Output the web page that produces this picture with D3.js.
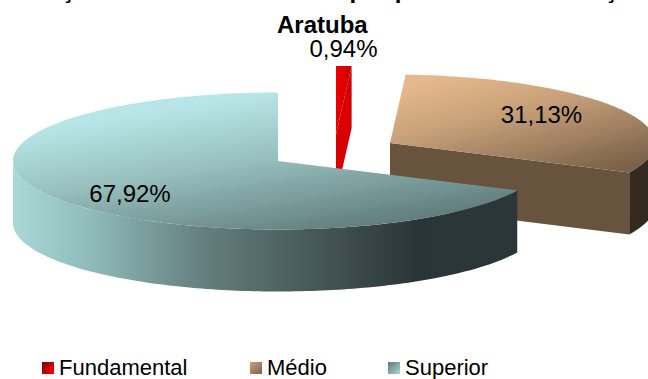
<!DOCTYPE html>
<html>
<head>
<meta charset="utf-8">
<script src="https://cdn.jsdelivr.net/npm/d3@7"></script>
<style>
  html, body { margin: 0; padding: 0; background: #fff; }
  svg { display: block; }
  text { font-family: "Liberation Sans", Arial, sans-serif; fill: #000; }
</style>
</head>
<body>
<div id="chart"></div>
<script>
// data
const categories = ["Fundamental", "Médio", "Superior"];
const values = [0.94, 31.13, 67.92];
const valueLabels = ["0,94%", "31,13%", "67,92%"];
// only the descenders of the first title line are visible, the wording is a guess
const titleLines = ["Ação continuada recebida por professores da Nação", "Aratuba"];

const width = 648;
const height = 379;

// ellipse of the tilted pie
const rx = 265;
const ry = 68.5;
const depth = 62;

// apex of each slice (exploded)
const apex = [[336, 134.5], [390, 143], [278, 161]];
const labelPos = [[343.5, 57], [541.5, 123], [130, 202]];
const legendX = [42, 250, 388];

const svg = d3.select("#chart").append("svg")
    .attr("width", width)
    .attr("height", height);

const defs = svg.append("defs");

function addGradient(id, x1, y1, x2, y2, stops) {
    const g = defs.append("linearGradient")
        .attr("id", id)
        .attr("x1", x1).attr("y1", y1)
        .attr("x2", x2).attr("y2", y2);
    stops.forEach(s => g.append("stop").attr("offset", s[0]).attr("stop-color", s[1]));
}

addGradient("topF", 0, 0, 1, 0.25, [[0, "#f00000"], [0.55, "#dc0000"], [1, "#c80000"]]);
addGradient("topM", 0.1, 0, 0.8, 1, [[0.05, "#e6b98c"], [0.4, "#c9a27b"], [1, "#7b6249"]]);
addGradient("topS", 0.15, 0, 0.75, 1, [[0.15, "#b8e6e6"], [0.5, "#97c0bf"], [1, "#5e7878"]]);
addGradient("wallS", 0, 0, 1, 0, [[0, "#a9d8d6"], [0.15, "#8fbcba"], [0.38, "#647e7e"], [0.65, "#404f4f"], [0.8, "#2a3537"], [1, "#2b3638"]]);
addGradient("legF", 0, 0, 1, 1, [[0, "#7a0000"], [1, "#ff0000"]]);
addGradient("legM", 0, 0, 1, 1, [[0, "#c9a27b"], [1, "#7b6249"]]);
addGradient("legS", 0, 0, 1, 1, [[0, "#5e7878"], [1, "#a9d6d5"]]);

const topFill = d3.scaleOrdinal().domain(categories).range(["url(#topF)", "url(#topM)", "url(#topS)"]);
const legendFill = d3.scaleOrdinal().domain(categories).range(["url(#legF)", "url(#legM)", "url(#legS)"]);
const radialWall = d3.scaleOrdinal().domain(categories).range(["#d80000", "#67533e", "#7d9f9f"]);
const outerWall = d3.scaleOrdinal().domain(categories).range(["#d80000", "#332a20", "url(#wallS)"]);

const pie = d3.pie().sort(null);
const slices = pie(values);

const line = d3.line();

// screen position of a pie angle (clockwise from the top)
function project(c, a) {
    return [c[0] + rx * Math.sin(a), c[1] - ry * Math.cos(a)];
}

function arcPoints(c, a0, a1) {
    const n = Math.max(2, Math.ceil((a1 - a0) / 0.02));
    return d3.range(n + 1).map(i => project(c, a0 + (a1 - a0) * i / n));
}

function down(p) {
    return [p[0], p[1] + depth];
}

// draw back to front: fundamental, medio, superior
slices.forEach((d, i) => {
    const name = categories[i];
    const c = apex[i];
    const g = svg.append("g").attr("class", "slice");

    // radial wall at the end of the slice, faces the viewer on the right half
    if (d.endAngle < Math.PI) {
        const p = project(c, d.endAngle);
        g.append("path")
            .attr("d", line([c, p, down(p), down(c)]) + "Z")
            .attr("fill", radialWall(name));
    }

    // outer wall, only the part facing the viewer
    const a0 = Math.max(d.startAngle, Math.PI / 2);
    const a1 = Math.min(d.endAngle, Math.PI * 1.5);
    if (a1 > a0) {
        const topEdge = arcPoints(c, a0, a1);
        const botEdge = topEdge.map(down).reverse();
        g.append("path")
            .attr("d", line(topEdge.concat(botEdge)) + "Z")
            .attr("fill", outerWall(name));
    }

    // top face
    const face = [c].concat(arcPoints(c, d.startAngle, d.endAngle));
    g.append("path")
        .attr("d", line(face) + "Z")
        .attr("fill", topFill(name));
});

// value labels
svg.selectAll("text.value")
    .data(valueLabels)
    .enter().append("text")
    .attr("class", "value")
    .attr("x", (d, i) => labelPos[i][0])
    .attr("y", (d, i) => labelPos[i][1])
    .attr("text-anchor", "middle")
    .attr("font-size", 24)
    .text(d => d);

// title, first line is cut by the top of the picture
svg.selectAll("text.title")
    .data(titleLines)
    .enter().append("text")
    .attr("class", "title")
    .attr("x", (d, i) => i === 0 ? 44 : 277)
    .attr("y", (d, i) => i === 0 ? -2 : 33)
    .attr("font-size", 24)
    .attr("font-weight", "bold")
    .text(d => d);

// legend
const legend = svg.selectAll("g.legend")
    .data(categories)
    .enter().append("g")
    .attr("class", "legend")
    .attr("transform", (d, i) => `translate(${legendX[i]},0)`);

legend.append("rect")
    .attr("y", 362)
    .attr("width", 12)
    .attr("height", 12)
    .attr("fill", d => legendFill(d));

legend.append("text")
    .attr("x", 17)
    .attr("y", 375)
    .attr("font-size", 22)
    .text(d => d);
</script>
</body>
</html>
